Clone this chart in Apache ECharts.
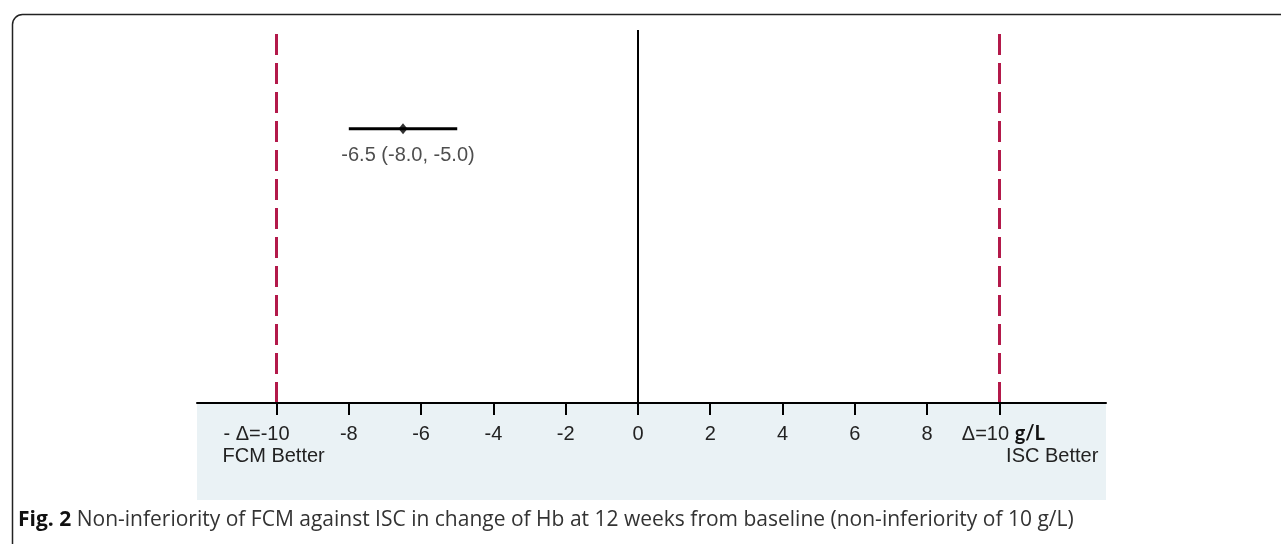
<!DOCTYPE html>
<html>
<head>
<meta charset="UTF-8">
<title>Non-inferiority</title>
<script src="https://cdn.jsdelivr.net/npm/echarts@6/dist/echarts.min.js"></script>
<style>
  html, body { margin: 0; padding: 0; background: #fff; }
  #main { width: 1281px; height: 544px; }
</style>
</head>
<body>
<div id="main"></div>
<script>
  // data
  var tickValues = [-10, -8, -6, -4, -2, 0, 2, 4, 6, 8, 10];
  var marginValues = [-10, 10];      // non-inferiority margin (g/L)
  var estimate = [-6.5];             // point estimate
  var ciBounds = [-8.0, -5.0];       // 95% CI
  var rowLevel = [0.735];            // vertical position of the CI row
  var estLabel = ['-6.5 (-8.0, -5.0)'];
  var sideLabels = ['FCM Better', 'ISC Better'];
  var caption = ['Fig. 2', 'Non-inferiority of FCM against ISC in change of Hb at 12 weeks from baseline (non-inferiority of 10 g/L)'];

  var chart = echarts.init(document.getElementById('main'));
  var font = '"Liberation Sans", Arial, sans-serif';
  var xMin = -12.2, xMax = 12.95;

  var option = {
    animation: false,
    grid: [
      { left: 197, right: 175, top: 30, bottom: 141 },
      { left: 197, right: 175, top: 403, bottom: 44, show: true,
        backgroundColor: '#eaf2f5', borderWidth: 0, z: 0 }
    ],
    xAxis: [{
      type: 'value', gridIndex: 0, min: xMin, max: xMax,
      splitLine: { show: false },
      axisLine: { onZero: false, lineStyle: { color: '#000', width: 2 } },
      axisTick: { show: true, inside: false, length: 12, customValues: tickValues,
        lineStyle: { color: '#000', width: 2 } },
      axisLabel: {
        customValues: tickValues, margin: 21, color: '#222',
        fontFamily: font, fontSize: 20,
        formatter: function (v) {
          if (v === -10) return '{l|- \u0394=-10}';
          if (v === 10) return '{n|\u0394=10 }{b|g/L}';
          return String(v);
        },
        rich: {
          l: { fontFamily: font, fontSize: 20, color: '#222', padding: [0, 40, 0, 0] },
          n: { fontFamily: font, fontSize: 20, color: '#222', padding: [0, 0, 0, 8] },
          b: { fontFamily: 'Lato, sans-serif', fontWeight: 'bold', fontSize: 20, color: '#111' }
        }
      },
      z: 5
    }, {
      type: 'value', gridIndex: 1, min: xMin, max: xMax, show: false
    }],
    yAxis: [
      { type: 'value', gridIndex: 0, min: 0, max: 1, show: false },
      { type: 'value', gridIndex: 1, min: 0, max: 1, show: false }
    ],
    series: [{
      type: 'line', xAxisIndex: 0, yAxisIndex: 0,
      data: ciBounds.map(function (v) { return [v, rowLevel[0]]; }),
      symbol: 'none',
      lineStyle: { color: '#000', width: 3 },
      markLine: {
        silent: true, symbol: 'none', label: { show: false },
        data: [
          { xAxis: 0, lineStyle: { color: '#000', width: 2, type: 'solid' } }
        ].concat(marginValues.map(function (m) {
          return { xAxis: m, lineStyle: { color: '#b3194a', width: 3, type: [21, 8] } };
        }))
      },
      z: 3
    }, {
      type: 'scatter', xAxisIndex: 0, yAxisIndex: 0,
      data: estimate.map(function (v) { return [v, rowLevel[0]]; }),
      symbol: 'diamond', symbolSize: [9, 11],
      itemStyle: { color: '#000' },
      label: {
        show: true, position: 'bottom', distance: 11,
        formatter: estLabel[0], color: '#222', fontFamily: font, fontSize: 20,
        offset: [5, 0]
      },
      z: 4
    }]
  };
  chart.setOption(option);

  // side labels and caption
  var pLeft = chart.convertToPixel({ xAxisIndex: 0 }, marginValues[0]);
  var pRight = chart.convertToPixel({ xAxisIndex: 0 }, marginValues[1]);
  chart.setOption({
    graphic: [{
      type: 'rect', left: 10, top: 12, silent: true, z: -10,
      shape: { x: 0, y: 0, width: 1320, height: 600, r: 10 },
      style: { fill: 'none', stroke: '#222', lineWidth: 1.5 }
    }, {
      type: 'text', x: pLeft - 54, y: 456, silent: true,
      style: { text: sideLabels[0], fill: '#222', font: '20px ' + font,
        textAlign: 'left', textVerticalAlign: 'middle' }
    }, {
      type: 'text', x: pRight + 99, y: 456, silent: true,
      style: { text: sideLabels[1], fill: '#222', font: '20px ' + font,
        textAlign: 'right', textVerticalAlign: 'middle' }
    }, {
      type: 'text', x: 18, y: 520, silent: true,
      style: {
        text: '{b|' + caption[0] + '} ' + caption[1],
        fill: '#333', font: '21px "Open Sans", sans-serif',
        textVerticalAlign: 'middle',
        rich: { b: { fontWeight: 'bold', fontSize: 21, fontFamily: '"Open Sans", sans-serif', fill: '#111' } }
      }
    }]
  });
</script>
</body>
</html>
